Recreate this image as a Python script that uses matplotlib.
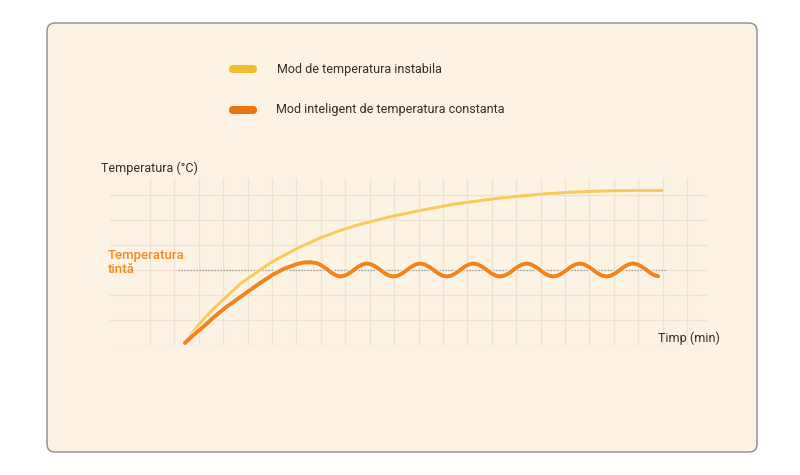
import matplotlib
matplotlib.use("Agg")
import matplotlib.pyplot as plt
from matplotlib.patches import FancyBboxPatch
import matplotlib.patheffects as pe

plt.rcParams['font.family'] = ['Roboto', 'DejaVu Sans']

# ---------------- data ----------------
series_names = ["Mod de temperatura instabila", "Mod inteligent de temperatura constanta"]
y_label = "Temperatura (°C)"
x_label = "Timp (min)"
target_label = "Temperatura\ntintă"
target_temp = 3.0

# unstable mode (yellow) - time (grid units), temperature (grid units)
t_unstable = [1.43, 1.7, 2.0, 2.3, 2.6, 3.07, 3.7, 4.51, 5.04, 6.02, 7.01, 7.79, 8.5, 9.71,
              11.07, 12.42, 14.34, 15.98, 17.2, 18.44, 19.7, 20.98]
T_unstable = [0.08, 0.45, 0.82, 1.15, 1.45, 1.88, 2.45, 3.0, 3.35, 3.86, 4.3, 4.58, 4.8, 5.1,
              5.38, 5.63, 5.88, 6.03, 6.11, 6.16, 6.18, 6.18]

# smart constant mode (orange)
t_smart = [1.43, 1.7, 2.17, 2.6, 3.07, 3.6, 4.1, 4.51, 5.04, 5.5, 6.02, 6.3, 6.6,
           6.85, 7.05, 7.25, 7.45, 7.63,
           7.80, 7.98, 8.16, 8.35, 8.53, 8.71,
           8.89, 9.07, 9.25, 9.44, 9.62, 9.80,
           9.98, 10.16, 10.34, 10.53, 10.71, 10.89,
           11.07, 11.25, 11.43, 11.62, 11.80, 11.98,
           12.16, 12.34, 12.52, 12.71, 12.89, 13.07,
           13.25, 13.43, 13.61, 13.80, 13.98, 14.16,
           14.34, 14.52, 14.70, 14.89, 15.07, 15.25,
           15.43, 15.61, 15.79, 15.98, 16.16, 16.34,
           16.52, 16.70, 16.88, 17.07, 17.25, 17.43,
           17.61, 17.79, 17.97, 18.16, 18.34, 18.52,
           18.70, 18.88, 19.06, 19.25, 19.43, 19.61,
           19.79, 19.97, 20.15, 20.34, 20.52, 20.70, 20.82]
T_smart = [0.08, 0.33, 0.72, 1.1, 1.48, 1.85, 2.2, 2.48, 2.82, 3.05, 3.24, 3.3, 3.31,
           3.27, 3.17, 3.03, 2.88, 2.78,
           2.74, 2.775, 2.87, 3.00, 3.13, 3.225,
           3.26, 3.225, 3.13, 3.00, 2.87, 2.775,
           2.74, 2.775, 2.87, 3.00, 3.13, 3.225,
           3.26, 3.225, 3.13, 3.00, 2.87, 2.775,
           2.74, 2.775, 2.87, 3.00, 3.13, 3.225,
           3.26, 3.225, 3.13, 3.00, 2.87, 2.775,
           2.74, 2.775, 2.87, 3.00, 3.13, 3.225,
           3.26, 3.225, 3.13, 3.00, 2.87, 2.775,
           2.74, 2.775, 2.87, 3.00, 3.13, 3.225,
           3.26, 3.225, 3.13, 3.00, 2.87, 2.775,
           2.74, 2.775, 2.87, 3.00, 3.13, 3.225,
           3.26, 3.225, 3.13, 3.00, 2.87, 2.775, 2.75]

# ---------------- style ----------------
W, H = 800, 475
BG = '#FCF3E4'
DARK = '#3B2B26'
YELLOW_LINE = '#F8CB5C'
ORANGE_LINE = '#F5831B'
YELLOW_KEY = '#F6BA2E'
ORANGE_KEY = '#E8750E'
TARGET_TXT = '#F7891F'
GRID = '#EEE3D1'

fig = plt.figure(figsize=(8, 4.75), dpi=100)
fig.patch.set_facecolor('white')


def fx(px):
    return px / W


def fy(py):
    return 1 - py / H


# background canvas in pixel coords
bg = fig.add_axes([0, 0, 1, 1])
bg.set_xlim(0, W)
bg.set_ylim(H, 0)
bg.axis('off')
card = FancyBboxPatch((47, 23), 710, 429, boxstyle="round,pad=0,rounding_size=8",
                      facecolor=BG, edgecolor='#8C8C8C', lw=1.0)
bg.add_patch(card)

# legend keys
for yc, col in [(69, YELLOW_KEY), (110, ORANGE_KEY)]:
    bg.add_patch(FancyBboxPatch((229, yc - 4), 28, 8, boxstyle="round,pad=0,rounding_size=4",
                                facecolor=col, edgecolor='none'))

# chart axes
x0, x1, ytop, ybot = 110, 707, 178, 345
ax = fig.add_axes([x0 / W, (H - ybot) / H, (x1 - x0) / W, (ybot - ytop) / H])
ax.set_facecolor('none')
ax.set_xlim(-1.64, 22.82)
ax.set_ylim(0, 6.68)
for s in ax.spines.values():
    s.set_visible(False)
ax.set_xticks(range(0, 23))
ax.set_yticks(range(0, 7))
ax.tick_params(length=0, labelbottom=False, labelleft=False)
ax.grid(True, color=GRID, lw=0.9)
ax.set_axisbelow(True)

ax.hlines(target_temp, 1.15, 21.2, colors='#9C9C9C', linestyles=(0, (1.2, 1.2)), lw=0.9, zorder=2)

ax.plot(t_unstable, T_unstable, color=YELLOW_LINE, lw=2.3, solid_capstyle='round',
        solid_joinstyle='round', zorder=3,
        path_effects=[pe.Stroke(linewidth=3.3, foreground='white', alpha=0.6), pe.Normal()])
ax.plot(t_smart, T_smart, color=ORANGE_LINE, lw=2.9, solid_capstyle='round',
        solid_joinstyle='round', zorder=4,
        path_effects=[pe.Stroke(linewidth=4.3, foreground='white', alpha=0.8), pe.Normal()])

# texts (figure level, drawn on top)
fig.text(fx(277), fy(69), series_names[0], fontsize=9, color=DARK, va='center', ha='left')
fig.text(fx(276), fy(110), series_names[1], fontsize=9, color=DARK, va='center', ha='left')
fig.text(fx(101), fy(168), y_label, fontsize=9, color=DARK, va='center', ha='left')
fig.text(fx(658), fy(338), x_label, fontsize=9, color=DARK, va='center', ha='left')
line1, line2 = target_label.split("\n")
fig.text(fx(108), fy(259), line1, fontsize=9.5, color=TARGET_TXT, va='baseline', ha='left',
         fontweight='medium')
fig.text(fx(108), fy(273), line2, fontsize=9.5, color=TARGET_TXT, va='baseline', ha='left',
         fontweight='medium')

fig.savefig('out.png', dpi=100, facecolor='white')
